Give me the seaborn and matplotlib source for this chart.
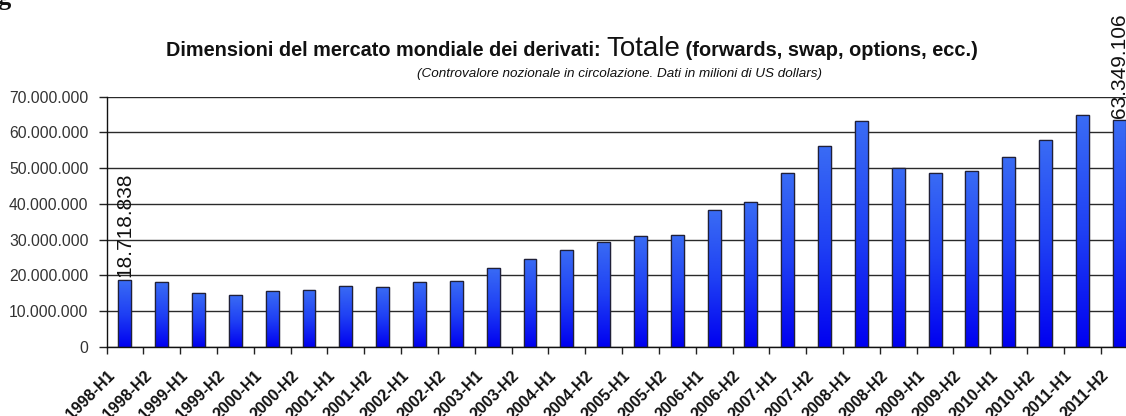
import numpy as np
import pandas as pd
import matplotlib
matplotlib.use("Agg")
import matplotlib.pyplot as plt
import matplotlib.transforms as mtransforms
from matplotlib.ticker import FixedLocator, FuncFormatter
import seaborn as sns

# Semesters and total notional outstanding (millions of US dollars)
periods = [
    "1998-H1", "1998-H2", "1999-H1", "1999-H2", "2000-H1", "2000-H2",
    "2001-H1", "2001-H2", "2002-H1", "2002-H2", "2003-H1", "2003-H2",
    "2004-H1", "2004-H2", "2005-H1", "2005-H2", "2006-H1", "2006-H2",
    "2007-H1", "2007-H2", "2008-H1", "2008-H2", "2009-H1", "2009-H2",
    "2010-H1", "2010-H2", "2011-H1", "2011-H2",
]
totals = [
    18718838, 18100000, 15100000, 14500000, 15600000, 15900000,
    17100000, 16800000, 18100000, 18400000, 22100000, 24700000,
    27200000, 29400000, 31100000, 31400000, 38200000, 40500000,
    48600000, 56300000, 63100000, 50000000, 48800000, 49100000,
    53200000, 57900000, 64800000, 63349106,
]
y_ticks = [0, 10000000, 20000000, 30000000, 40000000, 50000000, 60000000, 70000000]
labelled = ["1998-H1", "2011-H2"]

title_main = "Dimensioni del mercato mondiale dei derivati: "
title_big = "Totale"
title_tail = " (forwards, swap, options, ecc.)"
subtitle = "(Controvalore nozionale in circolazione. Dati in milioni di US dollars)"

df = pd.DataFrame({"periodo": periods, "totale": totals})

sns.set_theme(style="white")
plt.rcParams["font.family"] = ["Liberation Sans", "DejaVu Sans"]


def dotted(v, _pos=None):
    return f"{int(round(v)):,}".replace(",", ".")


W, H = 1126, 416
fig = plt.figure(figsize=(W / 100, H / 100), dpi=100)
fig.patch.set_facecolor("white")
ax = fig.add_axes([106.5 / W, (H - 347) / H, (1137.6 - 106.5) / W, (347 - 96.7) / H])

sns.barplot(data=df, x="periodo", y="totale", ax=ax, width=0.35,
            color="#2a50f5", edgecolor="#202038", linewidth=0.9,
            saturation=1)

# vertical gradient inside each bar: lighter blue on top, pure blue at bottom
grad = np.linspace(0, 1, 256).reshape(-1, 1)
cmap = matplotlib.colors.LinearSegmentedColormap.from_list(
    "bar", ["#3a6cf4", "#1f40f4", "#0000f0"])
for patch in list(ax.patches):
    x0, y0 = patch.get_x(), patch.get_y()
    w, h = patch.get_width(), patch.get_height()
    im = ax.imshow(grad, extent=[x0, x0 + w, y0, y0 + h], origin="upper",
                   cmap=cmap, aspect="auto", zorder=patch.get_zorder() + 0.1)
    im.set_clip_path(patch)
    edge = plt.Rectangle((x0, y0), w, h, fill=False, edgecolor="#202038",
                         linewidth=0.9, zorder=patch.get_zorder() + 0.2)
    ax.add_patch(edge)

ax.set_xlim(-0.5, len(periods) - 0.5)
ax.set_ylim(0, 70000000)
ax.set_xlabel("")
ax.set_ylabel("")

ax.set_axisbelow(True)
ax.yaxis.grid(True, color="#2a2a2a", linewidth=1.0)
ax.xaxis.grid(False)
ax.yaxis.set_major_locator(FixedLocator(y_ticks))
ax.yaxis.set_major_formatter(FuncFormatter(dotted))
ax.tick_params(axis="y", which="major", direction="out", length=6, width=1,
               color="#222222", labelsize=11.3, labelcolor="#333333", pad=7,
               left=True)

ax.set_xticks(range(len(periods)))
ax.set_xticklabels(periods, rotation=45, ha="right", rotation_mode="anchor",
                   fontweight="bold", fontsize=11.5, color="#111111")
ax.tick_params(axis="x", which="major", length=0, pad=15)
ax.xaxis.set_minor_locator(FixedLocator(np.arange(-0.5, len(periods), 1.0)))
ax.tick_params(axis="x", which="minor", direction="out", length=5, width=1,
               color="#222222", bottom=True)
shift = mtransforms.ScaledTranslation(-18 / 100, 0, fig.dpi_scale_trans)
for lab in ax.get_xticklabels():
    lab.set_transform(lab.get_transform() + shift)

for side in ["top", "right"]:
    ax.spines[side].set_visible(False)
for side in ["left", "bottom"]:
    ax.spines[side].set_color("#111111")
    ax.spines[side].set_linewidth(1.0)

# value labels above the first and last bars
for i, (p, v) in enumerate(zip(periods, totals)):
    if p in labelled:
        ax.annotate(dotted(v), (i, v), xytext=(0, 2), textcoords="offset points",
                    rotation=90, ha="center", va="bottom", fontsize=15,
                    color="#111111", annotation_clip=False)

# title made of three runs with different weights and sizes
base = 1 - 56 / H
t1 = fig.text(166 / W, base, title_main, fontsize=14.3, fontweight="bold",
              color="#111111", ha="left", va="baseline")
fig.canvas.draw()
r = fig.canvas.get_renderer()
bb = t1.get_window_extent(r)
t2 = fig.text(bb.x1 / W, base, title_big, fontsize=20, color="#111111",
              ha="left", va="baseline")
bb2 = t2.get_window_extent(r)
fig.text(bb2.x1 / W, base, title_tail, fontsize=14.4, fontweight="bold",
         color="#111111", ha="left", va="baseline")
fig.text(417 / W, 1 - 76.5 / H, subtitle, fontsize=9.7, fontstyle="italic",
         color="#111111", ha="left", va="baseline")

# fragment of a heading above the chart
fig.text(-0.002, 1 - 5 / H, "g", fontsize=19, fontweight="bold",
         family="Liberation Serif", color="#111111", ha="left", va="baseline")

fig.savefig("out.png", dpi=100, facecolor="white")
